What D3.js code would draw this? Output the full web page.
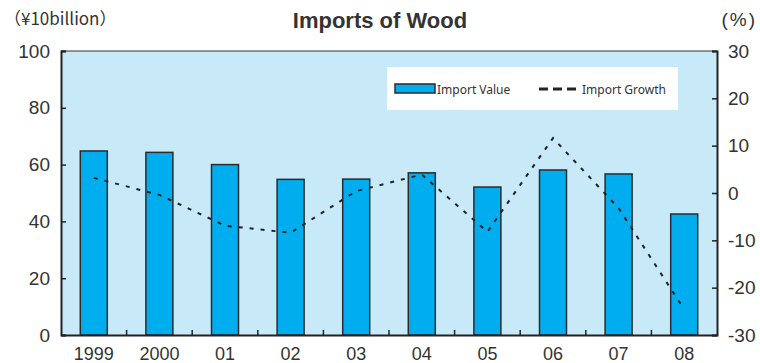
<!DOCTYPE html>
<html>
<head>
<meta charset="utf-8">
<script src="https://cdn.jsdelivr.net/npm/d3@7"></script>
<style>
  body { margin: 0; background: #fff; }
  svg text { font-family: "Liberation Sans", Arial, sans-serif; fill: #333; }
</style>
</head>
<body>
<div id="chart"></div>
<script>
// Data
var years = ["1999", "2000", "01", "02", "03", "04", "05", "06", "07", "08"];
var importValue = [64.8, 64.3, 60.0, 54.8, 54.9, 57.1, 52.1, 58.1, 56.7, 42.6];
var importGrowth = [3.2, -0.4, -6.9, -8.4, 0.4, 3.9, -8.2, 11.6, -3.2, -24.6];
var leftTicks = [0, 20, 40, 60, 80, 100];
var rightTicks = [-30, -20, -10, 0, 10, 20, 30];

function init() {
    var width = 760;
    var height = 363;
    var margin = { top: 51, right: 43, bottom: 28, left: 61 };
    var innerW = width - margin.left - margin.right;
    var innerH = height - margin.top - margin.bottom;

    var svg = d3.select("#chart")
        .append("svg")
        .attr("width", width)
        .attr("height", height);

    var x = d3.scaleBand().domain(years).range([0, innerW]).padding(0);
    var yL = d3.scaleLinear().domain([0, 100]).range([innerH, 0]);
    var yR = d3.scaleLinear().domain([-30, 30]).range([innerH, 0]);

    var g = svg.append("g")
        .attr("transform", "translate(" + margin.left + "," + margin.top + ")");

    // plot background
    g.append("rect")
        .attr("width", innerW)
        .attr("height", innerH)
        .attr("fill", "#c7e9f8");

    // top border
    g.append("line")
        .attr("x1", 0).attr("x2", innerW)
        .attr("y1", 0).attr("y2", 0)
        .attr("stroke", "#333").attr("stroke-width", 1);

    // bars
    var barW = 27;
    g.selectAll(".bar")
        .data(importValue)
        .enter()
        .append("rect")
        .attr("class", "bar")
        .attr("x", function (d, i) { return x(years[i]) + x.bandwidth() / 2 - barW / 2; })
        .attr("y", function (d) { return yL(d); })
        .attr("width", barW)
        .attr("height", function (d) { return innerH - yL(d); })
        .attr("fill", "#00aeef")
        .attr("stroke", "#2b2b2b")
        .attr("stroke-width", 1.5);

    // growth line
    var line = d3.line()
        .x(function (d, i) { return x(years[i]) + x.bandwidth() / 2; })
        .y(function (d) { return yR(d); });

    g.append("path")
        .datum(importGrowth)
        .attr("d", line)
        .attr("fill", "none")
        .attr("stroke", "#222")
        .attr("stroke-width", 2)
        .attr("stroke-dasharray", "4,7");

    var plain = function (d) { return String(d); };

    // left axis
    var leftAxis = d3.axisLeft(yL).tickValues(leftTicks).tickFormat(plain).tickSize(-5).tickPadding(11);
    var la = g.append("g").call(leftAxis);
    la.select(".domain").attr("stroke", "#222").attr("stroke-width", 2);
    la.selectAll(".tick line").attr("stroke", "#222").attr("stroke-width", 1.5);
    la.selectAll(".tick text").style("font-size", "19px").attr("fill", "#333");

    // right axis
    var rightAxis = d3.axisRight(yR).tickValues(rightTicks).tickFormat(plain).tickSize(-5).tickPadding(11);
    var ra = g.append("g").attr("transform", "translate(" + innerW + ",0)").call(rightAxis);
    ra.select(".domain").attr("stroke", "#222").attr("stroke-width", 2);
    ra.selectAll(".tick line").attr("stroke", "#222").attr("stroke-width", 1.5);
    ra.selectAll(".tick text").style("font-size", "19px").attr("fill", "#333");

    // bottom axis
    var bottomAxis = d3.axisBottom(x).tickSize(0).tickPadding(12);
    var ba = g.append("g").attr("transform", "translate(0," + innerH + ")").call(bottomAxis);
    ba.select(".domain").attr("stroke", "#222").attr("stroke-width", 2);
    ba.selectAll(".tick text").style("font-size", "18px").attr("fill", "#333");

    // category separator ticks
    g.selectAll(".sep")
        .data(years.slice(1))
        .enter()
        .append("line")
        .attr("x1", function (d) { return x(d); })
        .attr("x2", function (d) { return x(d); })
        .attr("y1", innerH)
        .attr("y2", innerH - 5)
        .attr("stroke", "#222")
        .attr("stroke-width", 1.5);

    // legend
    var lg = svg.append("g");
    lg.append("rect")
        .attr("x", 387).attr("y", 67)
        .attr("width", 291).attr("height", 43)
        .attr("fill", "#fff");
    lg.append("rect")
        .attr("x", 395).attr("y", 84)
        .attr("width", 40).attr("height", 9)
        .attr("fill", "#00aeef")
        .attr("stroke", "#2b2b2b").attr("stroke-width", 1.5);
    lg.append("text")
        .attr("x", 437).attr("y", 94)
        .style("font-family", "'Noto Sans', sans-serif")
        .style("font-size", "12px")
        .text("Import Value");
    lg.append("line")
        .attr("x1", 539).attr("x2", 576)
        .attr("y1", 89).attr("y2", 89)
        .attr("stroke", "#222").attr("stroke-width", 3)
        .attr("stroke-dasharray", "9,5");
    lg.append("text")
        .attr("x", 582).attr("y", 94)
        .style("font-family", "'Noto Sans', sans-serif")
        .style("font-size", "12px")
        .text("Import Growth");

    // title and unit labels
    svg.append("text")
        .attr("x", 380).attr("y", 28)
        .attr("text-anchor", "middle")
        .style("font-size", "22px")
        .style("font-weight", "bold")
        .attr("fill", "#222")
        .text("Imports of Wood");

    svg.append("text")
        .attr("x", 4).attr("y", 25)
        .style("font-family", "'Noto Sans CJK JP', sans-serif")
        .style("font-size", "17px")
        .text("（¥10billion）");

    svg.append("text")
        .attr("x", 757).attr("y", 26)
        .attr("text-anchor", "end")
        .style("font-size", "19px")
        .style("letter-spacing", "2px")
        .text("(%)");
}

window.onload = init;
</script>
</body>
</html>
